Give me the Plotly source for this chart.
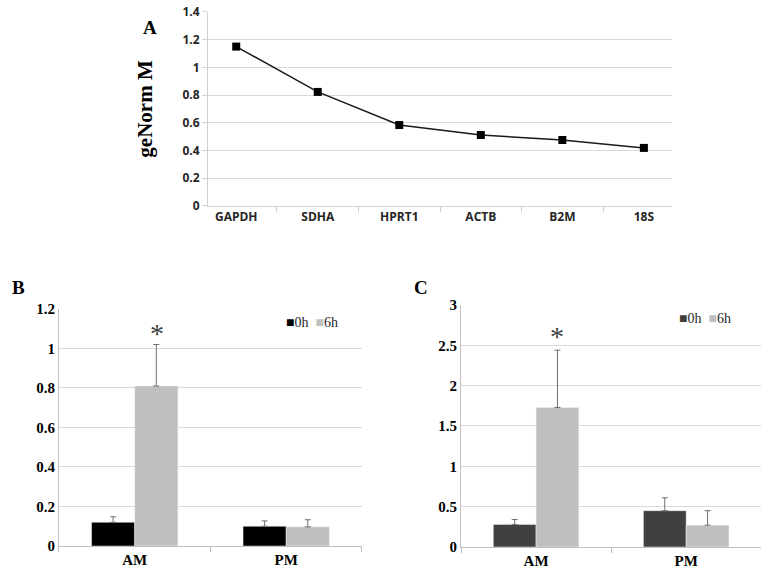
import plotly.graph_objects as go

# Panel A: geNorm stability
genes = ["GAPDH", "SDHA", "HPRT1", "ACTB", "B2M", "18S"]
genorm_m = [1.15, 0.823, 0.584, 0.512, 0.476, 0.419]

# Panels B and C: expression at 0h / 6h
groups = ["AM", "PM"]
b_0h = [0.12, 0.10]
b_0h_err = [0.028, 0.027]
b_6h = [0.81, 0.097]
b_6h_err = [0.21, 0.036]

c_0h = [0.28, 0.45]
c_0h_err = [0.06, 0.16]
c_6h = [1.73, 0.27]
c_6h_err = [0.71, 0.18]

b_ticks = [0, 0.2, 0.4, 0.6, 0.8, 1, 1.2]
c_ticks = [0, 0.5, 1, 1.5, 2, 2.5, 3]
a_ticks = [0, 0.2, 0.4, 0.6, 0.8, 1, 1.2, 1.4]

grid = "#d9d9d9"
serif = "Liberation Serif"
sans = "Open Sans"

fig = go.Figure()

fig.add_trace(go.Scatter(
    x=genes, y=genorm_m, mode="lines+markers",
    line=dict(color="#1a1a1a", width=1.5),
    marker=dict(symbol="square", size=8, color="black"),
    xaxis="x", yaxis="y",
))

err_style = dict(type="data", symmetric=False, color="#6e6e6e", thickness=1, width=3)

def add_bars(xa, ya, v0, e0, v6, e6, col0):
    fig.add_trace(go.Bar(
        x=groups, y=v0, name="0h", marker=dict(color=col0, line=dict(width=0.5, color="#f0f0f0")),
        error_y=dict(array=e0, arrayminus=[0] * len(e0), **err_style),
        xaxis=xa, yaxis=ya,
    ))
    fig.add_trace(go.Bar(
        x=groups, y=v6, name="6h", marker=dict(color="#bfbfbf", line=dict(width=0.5, color="#f0f0f0")),
        error_y=dict(array=e6, arrayminus=[0] * len(e6), **err_style),
        xaxis=xa, yaxis=ya,
    ))

add_bars("x2", "y2", b_0h, b_0h_err, b_6h, b_6h_err, "black")
add_bars("x3", "y3", c_0h, c_0h_err, c_6h, c_6h_err, "#404040")

serif_tick = dict(family=serif, size=15, color="black")
bar_x = dict(showgrid=False, showline=True, linecolor="#bfbfbf", ticks="outside",
             tickson="boundaries", ticklen=5, tickcolor="#bfbfbf", automargin=False,
             tickvals=groups, ticktext=[f"<b>{g}</b>" for g in groups], tickfont=serif_tick)
bar_y = dict(showgrid=True, gridcolor=grid, showline=True, linecolor="#bfbfbf",
             zeroline=False, ticks="", automargin=False, tickfont=serif_tick)

sans_tick = dict(family=sans, size=12, color="#262626")

fig.update_layout(
    width=762, height=569,
    margin=dict(l=0, r=0, t=0, b=0),
    paper_bgcolor="white", plot_bgcolor="white",
    showlegend=False,
    barmode="group", bargap=0.43, bargroupgap=0,
    xaxis=dict(domain=[0.273, 0.882], anchor="y", showgrid=False, showline=True,
               linecolor="#d0d0d0", ticks="outside", tickson="boundaries", ticklen=5,
               tickcolor="#d0d0d0", automargin=False,
               tickvals=genes, ticktext=[f"<b>{g}</b>" for g in genes], tickfont=sans_tick),
    yaxis=dict(domain=[0.638, 0.979], anchor="x", range=[0, 1.4],
               showgrid=True, gridcolor=grid, showline=True, linecolor="#d0d0d0",
               zeroline=False, ticks="outside", ticklen=5, tickcolor="#d0d0d0",
               automargin=False,
               tickvals=a_ticks, ticktext=[f"<b>{t:g}</b>" for t in a_ticks], tickfont=sans_tick,
               title=dict(text="<b>geNorm M</b>", standoff=24,
                          font=dict(family=serif, size=21, color="black"))),
    xaxis2=dict(domain=[0.0774, 0.475], anchor="y2", **bar_x),
    yaxis2=dict(domain=[0.0404, 0.457], anchor="x2", range=[0, 1.2],
                tickvals=b_ticks, ticktext=[f"<b>{t:g}</b>" for t in b_ticks], **bar_y),
    xaxis3=dict(domain=[0.605, 0.999], anchor="y3", **bar_x),
    yaxis3=dict(domain=[0.0387, 0.464], anchor="x3", range=[0, 3],
                tickvals=c_ticks, ticktext=[f"<b>{t:g}</b>" for t in c_ticks], **bar_y),
)

# panel letters
for txt, x, y in [("A", 0.185, 0.974), ("B", 0.013, 0.494), ("C", 0.553, 0.494)]:
    fig.add_annotation(text=f"<b>{txt}</b>", x=x, y=y, xref="paper", yref="paper", showarrow=False,
                       font=dict(family=serif, size=19, color="black"))

# legend keys drawn as text, to match the compact keys of the original
def add_key(xpos, ypos, col0):
    fig.add_annotation(
        text=f"<span style='color:{col0}'>■</span>0h  <span style='color:#bfbfbf'>■</span>6h",
        x=xpos, y=ypos, xref="paper", yref="paper", xanchor="left", yanchor="middle",
        showarrow=False, font=dict(family=serif, size=14, color="#262626"))

add_key(0.373, 0.434, "black")
add_key(0.888, 0.440, "#404040")

# significance marks
fig.add_annotation(text="*", x="AM", y=1.04, xref="x2", yref="y2", xshift=22, yshift=-10,
                   showarrow=False, yanchor="bottom",
                   font=dict(family=serif, size=28, color="#404040"))
fig.add_annotation(text="*", x="AM", y=2.48, xref="x3", yref="y3", xshift=21, yshift=-7,
                   showarrow=False, yanchor="bottom",
                   font=dict(family=serif, size=28, color="#404040"))

fig.write_html("out.html", config={"displayModeBar": False},
               post_script="document.body.style.margin='0';")
